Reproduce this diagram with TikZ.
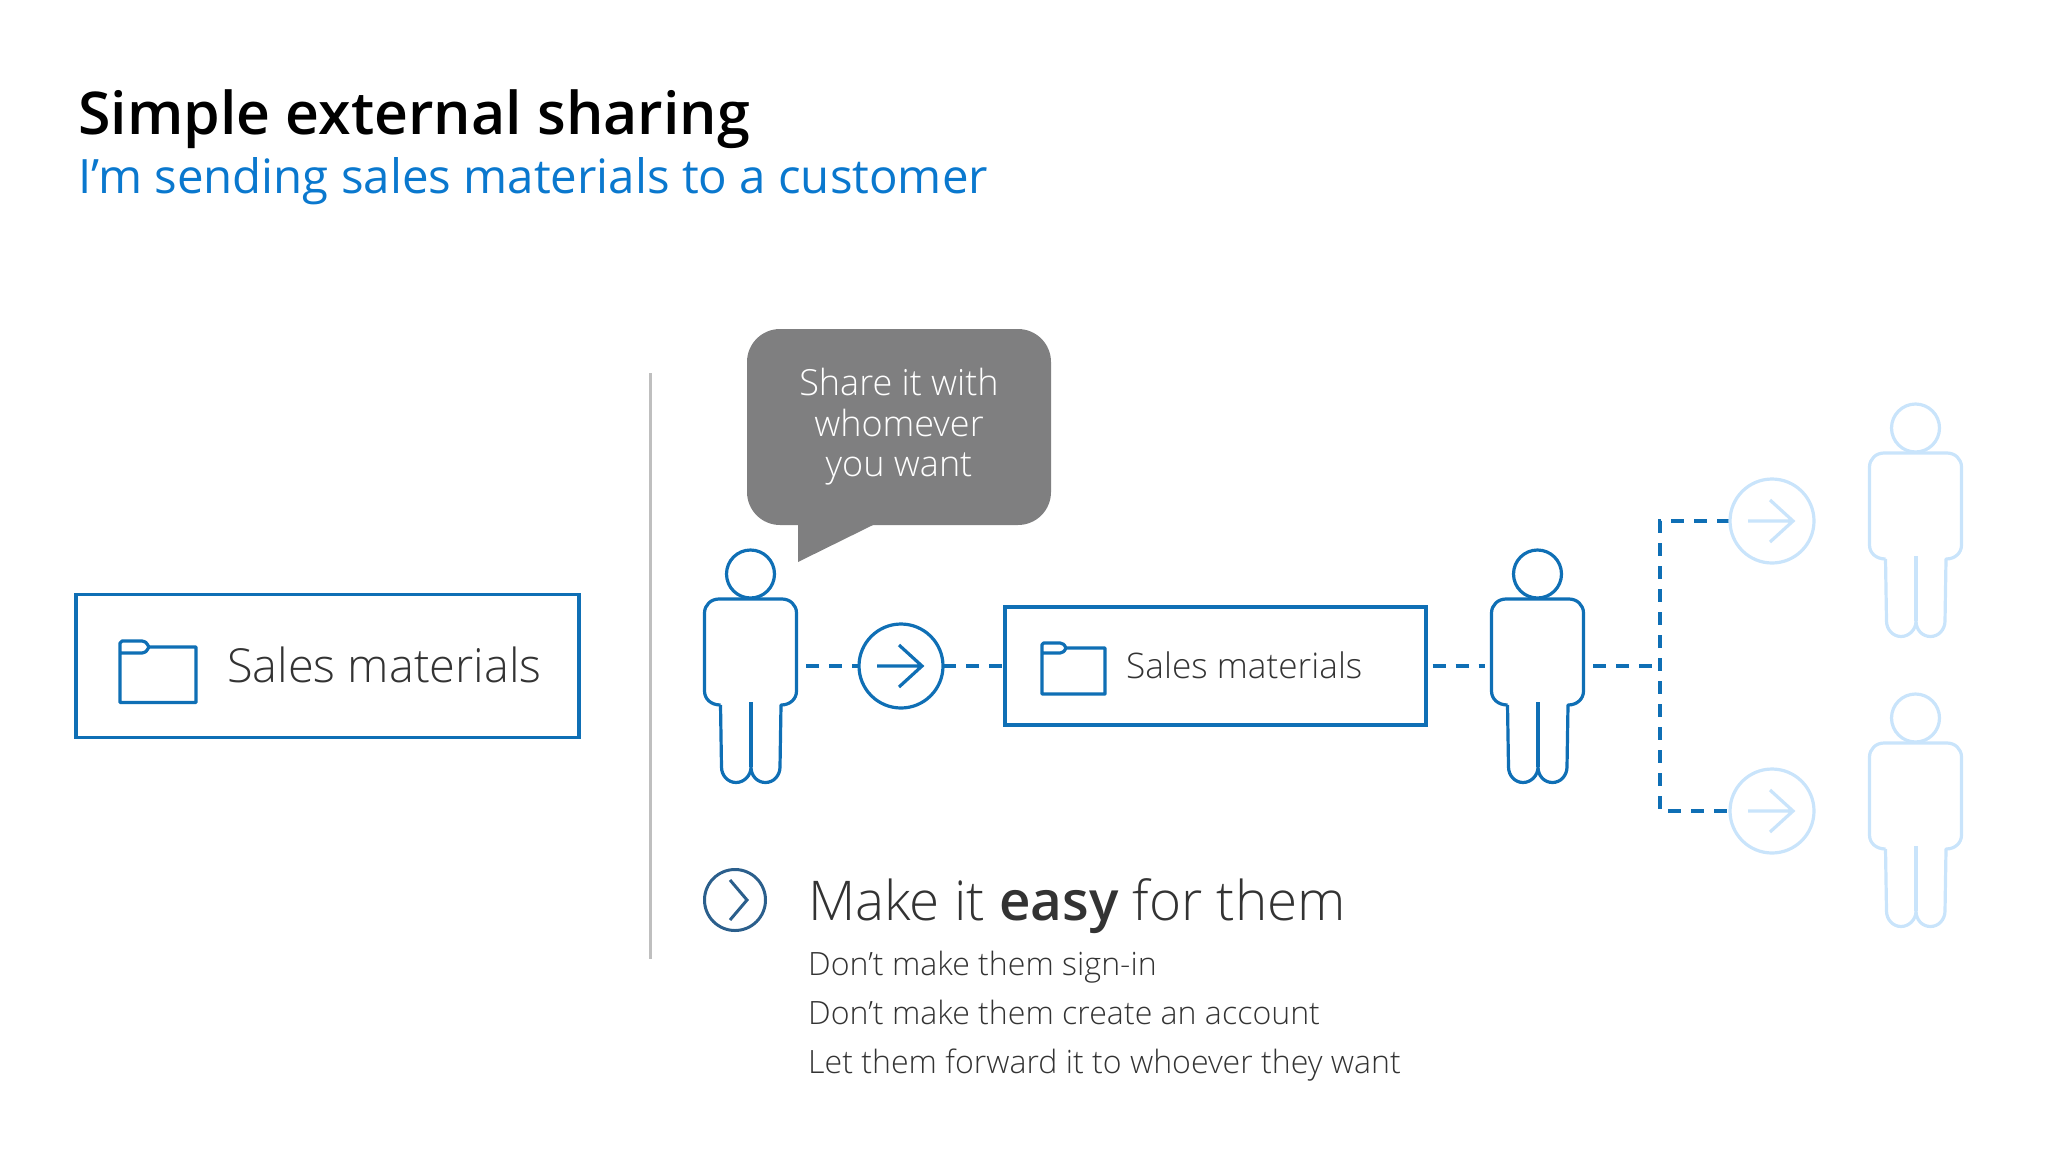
\documentclass[tikz,border=0pt]{standalone}
\usepackage{fontspec}
\setmainfont{Open Sans Light}
\newfontfamily\semif{Open Sans Semibold}
\newfontfamily\regf{Open Sans}
\definecolor{bl}{HTML}{0F6FB5}
\definecolor{pale}{HTML}{C9E4FB}
\definecolor{sub}{HTML}{0A78CE}
\definecolor{bub}{HTML}{7F7F80}
\definecolor{ink}{HTML}{333333}
\definecolor{navy}{HTML}{2B5F8C}
\tikzset{
  x=1pt,y=-1pt,
  blueline/.style={draw=bl,line width=3.2pt},
  paleline/.style={draw=pale,line width=3.2pt},
  dashline/.style={draw=bl,line width=3.2pt,dash pattern=on 13pt off 10pt},
  docbox/.style={rectangle,draw=bl,line width=3.1pt,fill=white,inner sep=0pt},
  ringnode/.style={circle,inner sep=0pt,minimum size=84pt},
  person/.pic={
    \path[draw,line join=round] (-29.5,131) -- (-28.5,193) .. controls (-28.5,201.6) and (-22,208.5) .. (-14,208.5) .. controls (-6,208.5) and (1,201.6) .. (1,193) .. controls (1,201.6) and (7,208.5) .. (15.5,208.5) .. controls (23.5,208.5) and (30,201.6) .. (30,193) -- (31,131) .. controls (40,131) and (46.5,125) .. (46.5,117) -- (46.5,39) .. controls (46.5,31) and (40,25) .. (32,25) -- (-31,25) .. controls (-39,25) and (-45.5,31) .. (-45.5,39) -- (-45.5,117) .. controls (-45.5,125) and (-39,131) .. (-29.5,131);
    \path[draw] (1,128) -- (1,193);
    \path[draw,fill=white] (0.5,0) circle[radius=24];
    \node[rectangle,inner sep=0pt,minimum width=92pt,minimum height=106pt] (-body) at (0.5,78) {};
  },
  folder/.pic={
    \path[draw,line join=round] (0,12) -- (0,61.5) -- (76,61.5) -- (76,6) -- (29,6) .. controls (26,1) .. (22,0) -- (2,0) -- (0,2) -- (0,12) -- (22,12) .. controls (26,11) .. (29,6);
  },
  arrowmark/.pic={
    \path[draw] (-24,0) -- (21,0) (-2,-21) -- (21,0) -- (-2,21);
  },
  body text/.style={anchor=base west,inner sep=0pt,text=ink,font=\fontsize{32.1}{38}\selectfont},
}
\begin{document}
\begin{tikzpicture}
\useasboundingbox (0,0) rectangle (2048,1152);
\node[anchor=base west,inner sep=0pt,text=black,font=\semif\fontsize{59}{70}\selectfont] (title) at (78,134) {Simple external sharing};
\node[anchor=base west,inner sep=0pt,text=sub,font=\regf\fontsize{47.4}{56}\selectfont] (subtitle) at (78,193) {I’m sending sales materials to a customer};

\node[docbox,minimum width=503pt,minimum height=143pt] (box1) at (327.5,666) {};
\pic[blueline] (f1) at (120,641) {folder};
\node[anchor=base west,inner sep=0pt,text=ink,font=\fontsize{46.9}{56}\selectfont] (t1) at (227,682) {Sales materials};

\draw[draw=black!25,line width=3pt] (650,373) coordinate (va) -- (650,959) coordinate (vb);

\fill[bub,rounded corners=33pt] (747,329) rectangle (1051,525);
\fill[bub] (798,520) -- (798,562) -- (873,525) -- (873,520) -- cycle;
\node[align=center,inner sep=0pt,text=white,font=\fontsize{36}{40.6}\selectfont] (say) at (899,427) {Share it with\\whomever\\you want};

\pic[blueline] (p1) at (750,574) {person};
\pic[blueline] (p2) at (1537,574) {person};
\pic[paleline] (p3) at (1915,428) {person};
\pic[paleline] (p4) at (1915,718) {person};

\node[docbox,minimum width=421pt,minimum height=118pt] (box2) at (1215.5,666) {};
\pic[blueline,scale=.83] (f2) at (1042,643) {folder};
\node[anchor=base west,inner sep=0pt,text=ink,font=\fontsize{35.2}{42}\selectfont] (t2) at (1126,678) {Sales materials};

\node[ringnode] (c1) at (901,666) {};
\node[ringnode] (c2) at (1772,521) {};
\node[ringnode] (c3) at (1772,811) {};
\coordinate (j) at (1660,666);

\draw[dashline] ([xshift=8pt]p1-body.east |- c1.west) -- (c1.west);
\draw[dashline] (c1.east) -- (box2.west);
\draw[dashline] ([xshift=5pt]box2.east) -- ([xshift=-5pt]p2-body.west |- box2.east);
\draw[dashline] ([xshift=8pt]p2-body.east |- j) -- (j);
\draw[dashline] (c2.west) -| (j) |- (c3.west);

\path[blueline,fill=white] (901,666) circle[radius=42];
\path[paleline,fill=white] (1772,521) circle[radius=42];
\path[paleline,fill=white] (1772,811) circle[radius=42];
\pic[blueline] (a1) at (901,666) {arrowmark};
\pic[paleline] (a2) at (1772,521) {arrowmark};
\pic[paleline] (a3) at (1772,811) {arrowmark};

\node[circle,draw=navy,line width=3pt,inner sep=0pt,minimum size=61pt] (c4) at (735,900) {};
\draw[navy,line width=3pt] (730,880) -- (747,900) -- (730,920);
\node[anchor=base west,inner sep=0pt,text=ink,font=\fontsize{54.8}{66}\selectfont] (h) at (808,920) {Make it {\semif easy} for them};
\node[body text] (l1) at (808,975) {Don’t make them sign-in};
\node[body text] (l2) at (808,1024) {Don’t make them create an account};
\node[body text] (l3) at (808,1073) {Let them forward it to whoever they want};
\end{tikzpicture}
\end{document}
